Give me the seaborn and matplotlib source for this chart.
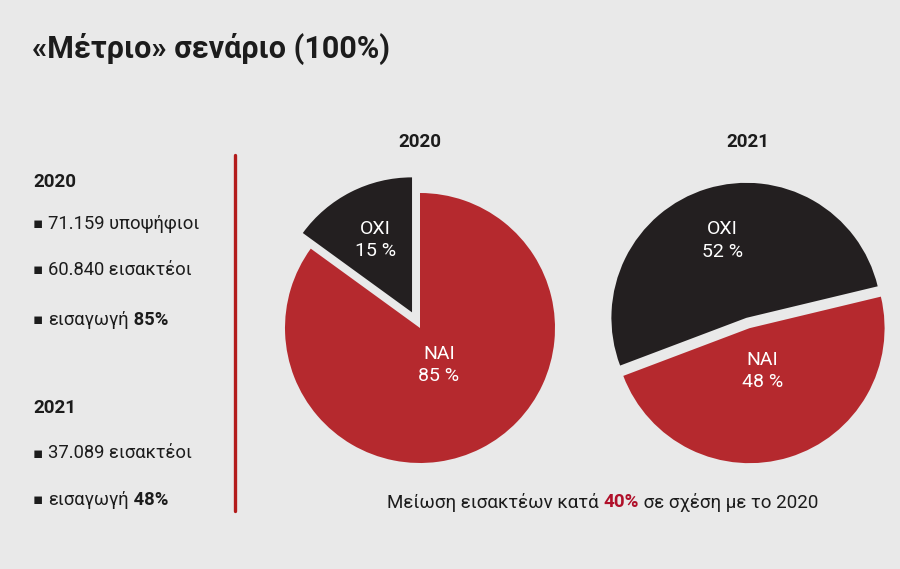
import numpy as np
import matplotlib
matplotlib.use("Agg")
import matplotlib.pyplot as plt
import seaborn as sns

# ---- data ----
title = "«Μέτριο» σενάριο (100%)"
years = ["2020", "2021"]
slice_labels = ["ΟΧΙ", "ΝΑΙ"]
shares_2020 = [15, 85]
shares_2021 = [52, 48]
stats_2020 = ["71.159 υποψήφιοι", "60.840 εισακτέοι"]
intake_2020 = "85%"
stats_2021 = ["37.089 εισακτέοι"]
intake_2021 = "48%"
note_parts = ["Μείωση εισακτέων κατά ", "40%", " σε σχέση με το 2020"]

# ---- style ----
sns.set_theme(style="white")
plt.rcParams["font.family"] = ["Roboto", "DejaVu Sans"]
RED, BLACK = sns.color_palette(["#b5292e", "#231f20"])
TXT = "#1c1c1c"
BG = "#e9e9e9"

W, H = 900, 569
fig = plt.figure(figsize=(9, 5.69), dpi=100, facecolor=BG)


def px(x, y):
    return x / W, 1 - y / H


def pie_axes(cx, cy, r, lim=1.3):
    w, h = 2 * lim * r / W, 2 * lim * r / H
    fx, fy = px(cx, cy)
    ax = fig.add_axes([fx - w / 2, fy - h / 2, w, h])
    ax.set_axis_off()
    return ax, lim


def draw_pie(cx, cy, r, values, start, explode, dists, year):
    ax, lim = pie_axes(cx, cy, r)
    wedges, _ = ax.pie(values, colors=[BLACK, RED], startangle=start,
                       explode=explode, counterclock=True,
                       wedgeprops=dict(linewidth=0))
    for wdg, lab, v, d in zip(wedges, slice_labels, values, dists):
        ang = np.deg2rad((wdg.theta1 + wdg.theta2) / 2)
        x0, y0 = wdg.center
        ax.text(x0 + d * np.cos(ang), y0 + d * np.sin(ang), f"{lab}\n{v} %",
                ha="center", va="center", color="white", fontsize=14,
                linespacing=1.3)
    ax.set_xlim(-lim, lim)
    ax.set_ylim(-lim, lim)
    fx, fy = px(cx, 142)
    fig.text(fx, fy, year, ha="center", va="center", fontsize=13.5,
             fontweight="bold", color=TXT)


draw_pie(420, 328, 135, shares_2020, 90, [0.13, 0], [0.6, 0.31], years[0])
draw_pie(748, 323, 135, shares_2021, 13.5, [0.04, 0.04], [0.6, 0.33], years[1])

# ---- title ----
fig.text(*px(32, 49), title, ha="left", va="center", fontsize=22,
         fontweight="bold", color=TXT)

# ---- left column ----
def bullet(y, text, bold=None):
    fig.text(*px(33, y), "▪", ha="left", va="center", fontsize=11, color=TXT,
             family=["DejaVu Sans"])
    t = fig.text(*px(48, y), text, ha="left", va="center", fontsize=13.2,
                 color=TXT)
    if bold:
        plt.annotate(" " + bold, xy=(1, 0.5), xycoords=t, va="center",
                     ha="left", fontsize=13.2, fontweight="bold", color=TXT)


fig.text(*px(33, 182), years[0], ha="left", va="center", fontsize=13.5,
         fontweight="bold", color=TXT)
for yy, s in zip([224, 270], stats_2020):
    bullet(yy, s)
bullet(320, "εισαγωγή", intake_2020)

fig.text(*px(33, 408), years[1], ha="left", va="center", fontsize=13.5,
         fontweight="bold", color=TXT)
for yy, s in zip([453], stats_2021):
    bullet(yy, s)
bullet(500, "εισαγωγή", intake_2021)

# red divider
fig.add_artist(plt.Line2D([235 / W, 235 / W], [1 - 155 / H, 1 - 511 / H],
                          color="#b31b1b", lw=2.4, transform=fig.transFigure))

# ---- bottom note ----
t1 = fig.text(*px(387, 502), note_parts[0], ha="left", va="center",
              fontsize=13.5, color=TXT)
t2 = plt.annotate(note_parts[1], xy=(1, 0.5), xycoords=t1, va="center",
                  ha="left", fontsize=13.5, fontweight="bold", color="#b0102a")
plt.annotate(note_parts[2], xy=(1, 0.5), xycoords=t2, va="center", ha="left",
             fontsize=13.5, color=TXT)

fig.savefig("out.png", dpi=100, facecolor=BG)
